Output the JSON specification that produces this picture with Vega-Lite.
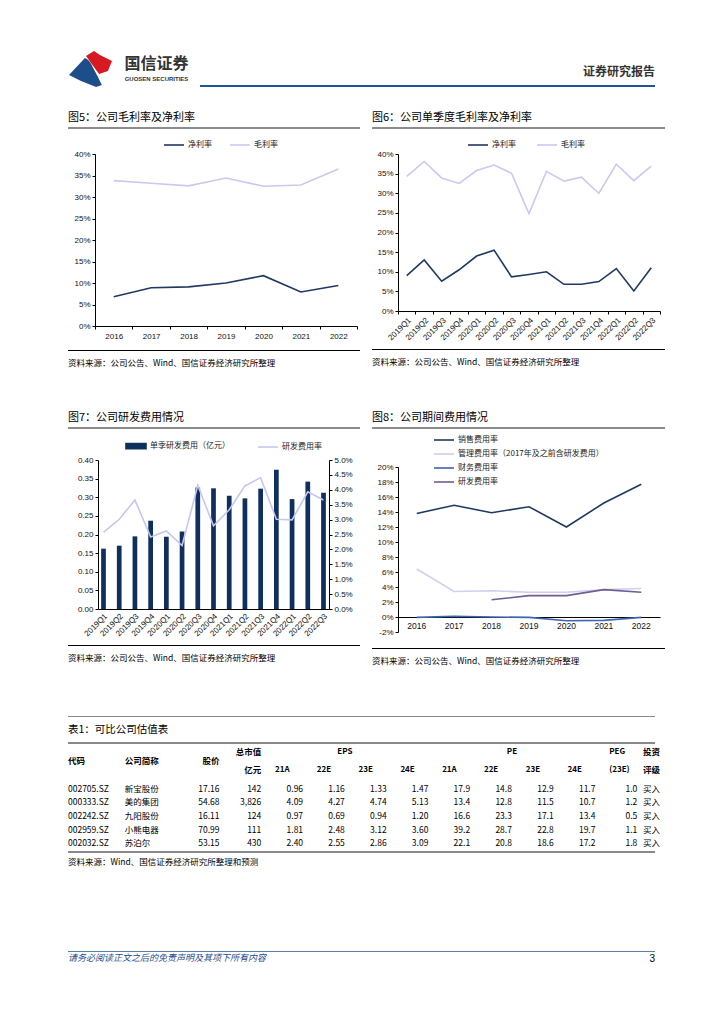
{
  "$schema": "https://vega.github.io/schema/vega-lite/v6.json",
  "background": "white",
  "padding": {"left": 68, "top": 50, "right": 0, "bottom": 0},
  "config": {
    "font": "Noto Sans CJK SC",
    "view": {"stroke": null},
    "axis": {"labelFont": "Liberation Sans", "labelFontSize": 8, "labelColor": "#111", "domainColor": "#000", "tickColor": "#000", "grid": false, "tickSize": 3, "labelPadding": 2, "minExtent": 0},
    "legend": {"labelFont": "Noto Sans CJK SC", "labelFontSize": 8, "labelColor": "#222", "padding": 0, "labelOffset": 8},
    "title": {"font": "Noto Sans CJK SC", "fontSize": 11, "fontWeight": "normal", "color": "#000", "anchor": "start", "offset": 4},
    "text": {"font": "Noto Sans CJK SC", "fontSize": 8.5, "color": "#000"}
  },
  "resolve": {"scale": {"color": "independent", "shape": "independent"}},
  "spacing": 0,
  "vconcat": [
    {
      "spacing": 8,
      "resolve": {"scale": {"color": "independent", "shape": "independent"}},
      "hconcat": [
        {
          "width": 45, "height": 36,
          "data": {"values": [{"part": "blue"}, {"part": "red"}]},
          "mark": {"type": "point", "filled": true, "opacity": 1, "strokeWidth": 0},
          "encoding": {
            "shape": {"field": "part", "type": "nominal", "scale": {"domain": ["blue", "red"], "range": ["M-1,0.28 L-0.26,-0.51 C-0.1,-0.45 0,-0.3 0.05,-0.2 C0.2,0.1 0.35,0.35 0.53,0.74 L0.26,0.84 L-0.44,0.56 Z", "M-0.21,-0.6 L0.16,-0.84 L0.44,-0.65 L1,-0.37 L0.81,0.09 L0.4,0.23 C0.25,0.05 0.05,-0.25 -0.21,-0.6 Z"]}, "legend": null},
            "color": {"field": "part", "type": "nominal", "scale": {"domain": ["blue", "red"], "range": ["#1d4e89", "#d71a21"]}, "legend": null},
            "size": {"value": 1849}
          }
        },
        {
          "width": 71, "height": 36,
          "layer": [
            {"data": {"values": [{"t": "国信证券"}]}, "mark": {"type": "text", "fontSize": 16, "fontWeight": "bold", "color": "#333", "dy": -5}, "encoding": {"text": {"field": "t", "type": "nominal"}}},
            {"data": {"values": [{"t": "GUOSEN SECURITIES"}]}, "mark": {"type": "text", "font": "Liberation Sans", "fontSize": 6, "fontWeight": "bold", "color": "#333", "dy": 10}, "encoding": {"text": {"field": "t", "type": "nominal"}}}
          ]
        },
        {
          "spacing": 0,
          "vconcat": [
            {"width": 1, "height": 15, "data": {"values": []}, "mark": "point", "encoding": {}},
            {"width": 455, "height": 2, "view": {"fill": "#1f5591", "stroke": null}, "data": {"values": []}, "mark": "point", "encoding": {},
             "title": {"text": "证券研究报告", "anchor": "end", "fontSize": 12, "fontWeight": "bold", "color": "#333", "offset": 6}}
          ]
        }
      ]
    },
    {"width": 1, "height": 24, "data": {"values": []}, "mark": "point", "encoding": {}},
    {
      "spacing": 12,
      "resolve": {"scale": {"color": "independent"}},
      "hconcat": [
        {
          "spacing": 10,
          "resolve": {"scale": {"color": "independent"}},
          "vconcat": [
            {"width": 292, "height": 2, "view": {"fill": "#8c8c8c", "stroke": null}, "data": {"values": []}, "mark": "point", "encoding": {}, "title": {"text": "图5：公司毛利率及净利率"}},
            {
              "spacing": 10,
              "resolve": {"scale": {"color": "independent"}},
              "vconcat": [
                {
                  "width": 289, "height": 172,
                  "data": {"values": [
                    {"year": "2016", "净利率": 0.068, "毛利率": 0.338},
                    {"year": "2017", "净利率": 0.089, "毛利率": 0.332},
                    {"year": "2018", "净利率": 0.091, "毛利率": 0.326},
                    {"year": "2019", "净利率": 0.100, "毛利率": 0.344},
                    {"year": "2020", "净利率": 0.117, "毛利率": 0.325},
                    {"year": "2021", "净利率": 0.079, "毛利率": 0.328},
                    {"year": "2022", "净利率": 0.094, "毛利率": 0.365}
                  ]},
                  "transform": [{"fold": ["净利率", "毛利率"], "as": ["series", "value"]}],
                  "mark": {"type": "line", "strokeWidth": 1.6},
                  "encoding": {
                    "x": {"field": "year", "type": "ordinal", "bandPosition": 0.5, "scale": {"type": "band", "paddingInner": 0, "paddingOuter": 0, "range": [27, 289]}, "axis": {"title": null, "labelAngle": 0, "tickBand": "extent", "labelPadding": 3}},
                    "y": {"field": "value", "type": "quantitative", "scale": {"domain": [0, 0.4], "nice": false}, "axis": {"title": null, "values": [0, 0.05, 0.1, 0.15, 0.2, 0.25, 0.3, 0.35, 0.4], "format": ".0%", "offset": -27, "minExtent": 0}},
                    "color": {"field": "series", "type": "nominal", "scale": {"domain": ["净利率", "毛利率"], "range": ["#1f3864", "#c9c9f2"]},
                      "legend": {"title": null, "orient": "none", "legendX": 100, "legendY": -15, "direction": "horizontal", "symbolType": "M-2,0H2", "symbolSize": 100, "symbolStrokeWidth": 1.6, "columnPadding": 14}}
                  }
                },
                {"width": 292, "height": 1, "view": {"fill": "#000", "stroke": null}, "data": {"values": []}, "mark": "point", "encoding": {},
                 "title": {"text": "资料来源：公司公告、Wind、国信证券经济研究所整理", "orient": "bottom", "offset": 8, "fontSize": 8.5}}
              ]
            }
          ]
        },
        {
          "spacing": 10,
          "resolve": {"scale": {"color": "independent"}},
          "vconcat": [
            {"width": 293, "height": 2, "view": {"fill": "#8c8c8c", "stroke": null}, "data": {"values": []}, "mark": "point", "encoding": {}, "title": {"text": "图6：公司单季度毛利率及净利率"}},
            {
              "spacing": 7,
              "resolve": {"scale": {"color": "independent"}},
              "vconcat": [
                {
                  "width": 288, "height": 157,
                  "data": {"values": [
                    {"q": "2019Q1", "净利率": 0.090, "毛利率": 0.343},
                    {"q": "2019Q2", "净利率": 0.130, "毛利率": 0.381},
                    {"q": "2019Q3", "净利率": 0.076, "毛利率": 0.339},
                    {"q": "2019Q4", "净利率": 0.105, "毛利率": 0.325},
                    {"q": "2020Q1", "净利率": 0.140, "毛利率": 0.358},
                    {"q": "2020Q2", "净利率": 0.155, "毛利率": 0.372},
                    {"q": "2020Q3", "净利率": 0.087, "毛利率": 0.351},
                    {"q": "2020Q4", "净利率": 0.093, "毛利率": 0.248},
                    {"q": "2021Q1", "净利率": 0.100, "毛利率": 0.356},
                    {"q": "2021Q2", "净利率": 0.068, "毛利率": 0.331},
                    {"q": "2021Q3", "净利率": 0.068, "毛利率": 0.341},
                    {"q": "2021Q4", "净利率": 0.075, "毛利率": 0.300},
                    {"q": "2022Q1", "净利率": 0.108, "毛利率": 0.374},
                    {"q": "2022Q2", "净利率": 0.051, "毛利率": 0.332},
                    {"q": "2022Q3", "净利率": 0.110, "毛利率": 0.369}
                  ]},
                  "transform": [{"fold": ["净利率", "毛利率"], "as": ["series", "value"]}],
                  "mark": {"type": "line", "strokeWidth": 1.6},
                  "encoding": {
                    "x": {"field": "q", "type": "ordinal", "bandPosition": 0.5, "scale": {"type": "band", "paddingInner": 0, "paddingOuter": 0, "range": [26, 288]}, "axis": {"title": null, "labelAngle": -45, "tickBand": "extent", "labelPadding": 2}},
                    "y": {"field": "value", "type": "quantitative", "scale": {"domain": [0, 0.4], "nice": false}, "axis": {"title": null, "values": [0, 0.05, 0.1, 0.15, 0.2, 0.25, 0.3, 0.35, 0.4], "format": ".0%", "offset": -26, "minExtent": 0}},
                    "color": {"field": "series", "type": "nominal", "scale": {"domain": ["净利率", "毛利率"], "range": ["#1f3864", "#c9c9f2"]},
                      "legend": {"title": null, "orient": "none", "legendX": 100, "legendY": -15, "direction": "horizontal", "symbolType": "M-2,0H2", "symbolSize": 100, "symbolStrokeWidth": 1.6, "columnPadding": 17}}
                  }
                },
                {"width": 293, "height": 1, "view": {"fill": "#000", "stroke": null}, "data": {"values": []}, "mark": "point", "encoding": {},
                 "title": {"text": "资料来源：公司公告、Wind、国信证券经济研究所整理", "orient": "bottom", "offset": 8, "fontSize": 8.5}}
              ]
            }
          ]
        }
      ]
    },
    {"width": 1, "height": 44, "data": {"values": []}, "mark": "point", "encoding": {}},
    {
      "spacing": 12,
      "resolve": {"scale": {"color": "independent"}},
      "hconcat": [
        {
          "spacing": 11,
          "resolve": {"scale": {"color": "independent"}},
          "vconcat": [
            {"width": 292, "height": 2, "view": {"fill": "#8c8c8c", "stroke": null}, "data": {"values": []}, "mark": "point", "encoding": {}, "title": {"text": "图7：公司研发费用情况"}},
            {
              "spacing": 7,
              "resolve": {"scale": {"color": "independent"}},
              "vconcat": [
                {
                  "width": 261, "height": 149,
                  "data": {"values": [
                    {"q": "2019Q1", "rd": 0.162, "rate": 0.0257},
                    {"q": "2019Q2", "rd": 0.170, "rate": 0.0301},
                    {"q": "2019Q3", "rd": 0.195, "rate": 0.0366},
                    {"q": "2019Q4", "rd": 0.237, "rate": 0.0242},
                    {"q": "2020Q1", "rd": 0.194, "rate": 0.0262},
                    {"q": "2020Q2", "rd": 0.208, "rate": 0.0213},
                    {"q": "2020Q3", "rd": 0.326, "rate": 0.0415},
                    {"q": "2020Q4", "rd": 0.324, "rate": 0.0279},
                    {"q": "2021Q1", "rd": 0.304, "rate": 0.0333},
                    {"q": "2021Q2", "rd": 0.297, "rate": 0.0413},
                    {"q": "2021Q3", "rd": 0.323, "rate": 0.0441},
                    {"q": "2021Q4", "rd": 0.374, "rate": 0.0301},
                    {"q": "2022Q1", "rd": 0.295, "rate": 0.0299},
                    {"q": "2022Q2", "rd": 0.342, "rate": 0.0393},
                    {"q": "2022Q3", "rd": 0.312, "rate": 0.0366}
                  ]},
                  "encoding": {
                    "x": {"field": "q", "type": "ordinal", "scale": {"type": "band", "paddingInner": 0.7, "paddingOuter": 0.2, "range": [30, 261]}, "axis": {"title": null, "labelAngle": -45, "ticks": false, "labelPadding": 3}}
                  },
                  "layer": [
                    {
                      "mark": {"type": "bar"},
                      "encoding": {
                        "y": {"field": "rd", "type": "quantitative", "scale": {"domain": [0, 0.4], "nice": false}, "axis": {"title": null, "orient": "left", "values": [0, 0.05, 0.1, 0.15, 0.2, 0.25, 0.3, 0.35, 0.4], "format": ".2f", "offset": -30, "minExtent": 0}},
                        "color": {"datum": "单季研发费用（亿元）", "type": "nominal", "scale": {"domain": ["单季研发费用（亿元）", "研发费用率"], "range": ["#0f2f5e", "#c6c6ee"]},
                          "legend": {"title": null, "orient": "none", "legendX": 62, "legendY": -20, "direction": "horizontal", "columnPadding": 24, "symbolSize": 100,
                            "encode": {"symbols": {"update": {
                              "shape": {"signal": "datum.value === '研发费用率' ? 'M-2,0H2' : 'M-2,-0.5H2V0.5H-2Z'"},
                              "fill": {"signal": "datum.value === '研发费用率' ? 'transparent' : '#0f2f5e'"},
                              "stroke": {"signal": "datum.value === '研发费用率' ? '#c6c6ee' : 'transparent'"},
                              "strokeWidth": {"value": 1.6},
                              "opacity": {"value": 1}
                            }}}}}
                      }
                    },
                    {
                      "mark": {"type": "line", "strokeWidth": 1.6},
                      "encoding": {
                        "x": {"field": "q", "type": "ordinal", "bandPosition": 0.5},
                        "y": {"field": "rate", "type": "quantitative", "scale": {"domain": [0, 0.05], "nice": false}, "axis": {"title": null, "orient": "right", "values": [0, 0.005, 0.01, 0.015, 0.02, 0.025, 0.03, 0.035, 0.04, 0.045, 0.05], "format": ".1%", "minExtent": 0}},
                        "color": {"datum": "研发费用率", "type": "nominal"}
                      }
                    }
                  ],
                  "resolve": {"scale": {"y": "independent"}}
                },
                {"width": 292, "height": 1, "view": {"fill": "#000", "stroke": null}, "data": {"values": []}, "mark": "point", "encoding": {},
                 "title": {"text": "资料来源：公司公告、Wind、国信证券经济研究所整理", "orient": "bottom", "offset": 8, "fontSize": 8.5}}
              ]
            }
          ]
        },
        {
          "spacing": 5,
          "resolve": {"scale": {"color": "independent"}},
          "vconcat": [
            {"width": 293, "height": 2, "view": {"fill": "#8c8c8c", "stroke": null}, "data": {"values": []}, "mark": "point", "encoding": {}, "title": {"text": "图8：公司期间费用情况"}},
            {
              "spacing": 12,
              "resolve": {"scale": {"color": "independent"}},
              "vconcat": [
                {
                  "width": 288, "height": 165,
                  "data": {"values": [
                    {"year": "2016", "销售费用率": 0.138, "管理费用率（2017年及之前含研发费用）": 0.064, "财务费用率": -0.0005, "研发费用率": null},
                    {"year": "2017", "销售费用率": 0.149, "管理费用率（2017年及之前含研发费用）": 0.034, "财务费用率": 0.001, "研发费用率": null},
                    {"year": "2018", "销售费用率": 0.139, "管理费用率（2017年及之前含研发费用）": 0.035, "财务费用率": 0.0, "研发费用率": 0.023},
                    {"year": "2019", "销售费用率": 0.147, "管理费用率（2017年及之前含研发费用）": 0.033, "财务费用率": -0.0005, "研发费用率": 0.0285},
                    {"year": "2020", "销售费用率": 0.120, "管理费用率（2017年及之前含研发费用）": 0.033, "财务费用率": -0.005, "研发费用率": 0.0285},
                    {"year": "2021", "销售费用率": 0.152, "管理费用率（2017年及之前含研发费用）": 0.0365, "财务费用率": -0.0045, "研发费用率": 0.0365},
                    {"year": "2022", "销售费用率": 0.177, "管理费用率（2017年及之前含研发费用）": 0.038, "财务费用率": -0.0005, "研发费用率": 0.033}
                  ]},
                  "transform": [{"fold": ["销售费用率", "管理费用率（2017年及之前含研发费用）", "财务费用率", "研发费用率"], "as": ["series", "value"]}],
                  "mark": {"type": "line", "strokeWidth": 1.6},
                  "encoding": {
                    "x": {"field": "year", "type": "ordinal", "bandPosition": 0.5, "scale": {"type": "band", "paddingInner": 0, "paddingOuter": 0, "range": [26, 288]}, "axis": {"title": null, "labelAngle": 0, "offset": -15, "ticks": false, "labelPadding": 4, "labelFontSize": 8.5}},
                    "y": {"field": "value", "type": "quantitative", "scale": {"domain": [-0.02, 0.2], "nice": false}, "axis": {"title": null, "values": [-0.02, 0, 0.02, 0.04, 0.06, 0.08, 0.1, 0.12, 0.14, 0.16, 0.18, 0.2], "labelExpr": "replace(format(datum.value, '.0%'), '−', '-')", "offset": -26, "minExtent": 0}},
                    "color": {"field": "series", "type": "nominal", "scale": {"domain": ["销售费用率", "管理费用率（2017年及之前含研发费用）", "财务费用率", "研发费用率"], "range": ["#1f3a60", "#cfcff0", "#3f66b0", "#6f5e91"]},
                      "legend": {"title": null, "orient": "none", "legendX": 66, "legendY": -33, "direction": "vertical", "symbolType": "M-2,0H2", "symbolSize": 100, "symbolStrokeWidth": 1.6, "rowPadding": 4}}
                  }
                },
                {"width": 293, "height": 1, "view": {"fill": "#000", "stroke": null}, "data": {"values": []}, "mark": "point", "encoding": {},
                 "title": {"text": "资料来源：公司公告、Wind、国信证券经济研究所整理", "orient": "bottom", "offset": 8, "fontSize": 8.5}}
              ]
            }
          ]
        }
      ]
    },
    {"width": 1, "height": 50, "data": {"values": []}, "mark": "point", "encoding": {}},
    {
      "spacing": 7,
      "vconcat": [
        {"width": 587, "height": 1, "view": {"fill": "#8a8a8a", "stroke": null}, "data": {"values": []}, "mark": "point", "encoding": {}},
        {
          "spacing": 0,
          "vconcat": [
            {"width": 587, "height": 2, "view": {"fill": "#8a8a8a", "stroke": null}, "data": {"values": []}, "mark": "point", "encoding": {}, "title": {"text": "表1：可比公司估值表", "fontSize": 10.5, "offset": 7}},
            {
              "width": 543, "height": 33,
              "data": {"values": [
                {"col": "code", "row": "hm", "t": "代码"},
                {"col": "name", "row": "hm", "t": "公司简称"},
                {"col": "price", "row": "hm", "t": "股价"},
                {"col": "cap", "row": "h1", "t": "总市值"},
                {"col": "cap", "row": "h2", "t": "亿元"},
                {"col": "eps22", "row": "h1", "t": "EPS"},
                {"col": "eps21", "row": "h2", "t": "21A"},
                {"col": "eps22", "row": "h2", "t": "22E"},
                {"col": "eps23", "row": "h2", "t": "23E"},
                {"col": "eps24", "row": "h2", "t": "24E"},
                {"col": "pe22", "row": "h1", "t": "PE"},
                {"col": "pe21", "row": "h2", "t": "21A"},
                {"col": "pe22", "row": "h2", "t": "22E"},
                {"col": "pe23", "row": "h2", "t": "23E"},
                {"col": "pe24", "row": "h2", "t": "24E"},
                {"col": "peg", "row": "h1", "t": "PEG"},
                {"col": "peg", "row": "h2", "t": "(23E)"},
                {"col": "rating", "row": "h1", "t": "投资"},
                {"col": "rating", "row": "h2", "t": "评级"}
              ]},
              "encoding": {
                "x": {"field": "col", "type": "nominal", "scale": {"type": "point", "domain": ["code", "name", "price", "cap", "eps21", "eps22", "eps23", "eps24", "pe21", "pe22", "pe23", "pe24", "peg", "rating"], "padding": 0}, "axis": null},
                "y": {"field": "row", "type": "nominal", "scale": {"type": "point", "domain": ["h1", "hm", "h2"], "padding": 0.833, "align": 0.533}, "axis": null},
                "text": {"field": "t", "type": "nominal"}
              },
              "layer": [
                {"transform": [{"filter": "datum.col === 'code'"}], "mark": {"type": "text", "align": "left", "fontWeight": "bold"}},
                {"transform": [{"filter": "datum.col === 'name'"}], "mark": {"type": "text", "align": "left", "dx": 15, "fontWeight": "bold"}},
                {"transform": [{"filter": "datum.col === 'price' || datum.col === 'cap'"}], "mark": {"type": "text", "align": "right", "dx": 68, "fontWeight": "bold"}},
                {"transform": [{"filter": "(datum.row === 'h2' && indexof(['eps21','eps22','eps23','eps24','pe21','pe22','pe23','pe24','peg'], datum.col) >= 0) || datum.col === 'peg'"}], "mark": {"type": "text", "align": "left", "dx": 40, "fontWeight": "bold", "fontSize": 8}},
                {"transform": [{"filter": "datum.row === 'h1' && (datum.col === 'eps22' || datum.col === 'pe22')"}], "mark": {"type": "text", "align": "center", "dx": 68, "fontWeight": "bold", "fontSize": 8}},
                {"transform": [{"filter": "datum.col === 'rating'"}], "mark": {"type": "text", "align": "left", "dx": 32, "fontWeight": "bold"}}
              ]
            },
            {
              "width": 543, "height": 74,
              "data": {"values": [
                {"code": "002705.SZ", "name": "新宝股份", "price": 17.16, "cap": 142, "eps21": 0.96, "eps22": 1.16, "eps23": 1.33, "eps24": 1.47, "pe21": 17.9, "pe22": 14.8, "pe23": 12.9, "pe24": 11.7, "peg": 1.0, "rating": "买入"},
                {"code": "000333.SZ", "name": "美的集团", "price": 54.68, "cap": 3826, "eps21": 4.09, "eps22": 4.27, "eps23": 4.74, "eps24": 5.13, "pe21": 13.4, "pe22": 12.8, "pe23": 11.5, "pe24": 10.7, "peg": 1.2, "rating": "买入"},
                {"code": "002242.SZ", "name": "九阳股份", "price": 16.11, "cap": 124, "eps21": 0.97, "eps22": 0.69, "eps23": 0.94, "eps24": 1.20, "pe21": 16.6, "pe22": 23.3, "pe23": 17.1, "pe24": 13.4, "peg": 0.5, "rating": "买入"},
                {"code": "002959.SZ", "name": "小熊电器", "price": 70.99, "cap": 111, "eps21": 1.81, "eps22": 2.48, "eps23": 3.12, "eps24": 3.60, "pe21": 39.2, "pe22": 28.7, "pe23": 22.8, "pe24": 19.7, "peg": 1.1, "rating": "买入"},
                {"code": "002032.SZ", "name": "苏泊尔", "price": 53.15, "cap": 430, "eps21": 2.40, "eps22": 2.55, "eps23": 2.86, "eps24": 3.09, "pe21": 22.1, "pe22": 20.8, "pe23": 18.6, "pe24": 17.2, "peg": 1.8, "rating": "买入"}
              ]},
              "encoding": {
                "y": {"field": "code", "type": "nominal", "scale": {"type": "point", "domain": ["002705.SZ", "000333.SZ", "002242.SZ", "002959.SZ", "002032.SZ"], "padding": 0.74, "align": 0.6}, "axis": null}
              },
              "layer": [
                {"mark": {"type": "text", "align": "left"}, "encoding": {"x": {"datum": "code", "type": "nominal", "scale": {"type": "point", "domain": ["code", "name", "price", "cap", "eps21", "eps22", "eps23", "eps24", "pe21", "pe22", "pe23", "pe24", "peg", "rating"], "padding": 0}, "axis": null}, "text": {"field": "code", "type": "nominal"}}},
                {"mark": {"type": "text", "align": "left", "dx": 15}, "encoding": {"x": {"datum": "name", "type": "nominal"}, "text": {"field": "name", "type": "nominal"}}},
                {"transform": [{"fold": ["price", "eps21", "eps22", "eps23", "eps24"], "as": ["col", "v"]}], "mark": {"type": "text", "align": "right", "dx": 68}, "encoding": {"x": {"field": "col", "type": "nominal"}, "text": {"field": "v", "type": "quantitative", "format": ".2f"}}},
                {"transform": [{"fold": ["cap"], "as": ["col", "v"]}], "mark": {"type": "text", "align": "right", "dx": 68}, "encoding": {"x": {"field": "col", "type": "nominal"}, "text": {"field": "v", "type": "quantitative", "format": ",.0f"}}},
                {"transform": [{"fold": ["pe21", "pe22", "pe23", "pe24", "peg"], "as": ["col", "v"]}], "mark": {"type": "text", "align": "right", "dx": 68}, "encoding": {"x": {"field": "col", "type": "nominal"}, "text": {"field": "v", "type": "quantitative", "format": ".1f"}}},
                {"mark": {"type": "text", "align": "left", "dx": 32}, "encoding": {"x": {"datum": "rating", "type": "nominal"}, "text": {"field": "rating", "type": "nominal"}}}
              ]
            },
            {"width": 587, "height": 2, "view": {"fill": "#8a8a8a", "stroke": null}, "data": {"values": []}, "mark": "point", "encoding": {},
             "title": {"text": "资料来源：Wind、国信证券经济研究所整理和预测", "orient": "bottom", "offset": 5, "fontSize": 8.5}}
          ]
        }
      ]
    },
    {"width": 1, "height": 84, "data": {"values": []}, "mark": "point", "encoding": {}},
    {
      "spacing": 0,
      "hconcat": [
        {"width": 520, "height": 1, "view": {"fill": "#5a7fa9", "stroke": null}, "data": {"values": []}, "mark": "point", "encoding": {},
         "title": {"text": "请务必阅读正文之后的免责声明及其项下所有内容", "orient": "bottom", "offset": 2, "fontSize": 9, "fontStyle": "italic", "color": "#1f4e8c"}},
        {"width": 67, "height": 1, "view": {"fill": "#5a7fa9", "stroke": null}, "data": {"values": []}, "mark": "point", "encoding": {},
         "title": {"text": "3", "orient": "bottom", "anchor": "end", "offset": 2, "fontSize": 10, "font": "Liberation Sans", "color": "#000"}}
      ]
    }
  ]
}
